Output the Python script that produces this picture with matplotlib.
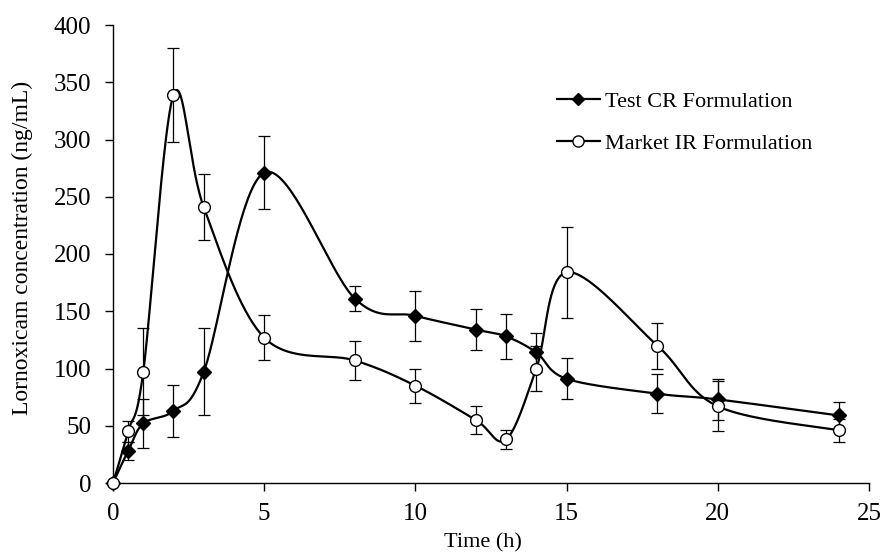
import numpy as np
import matplotlib
matplotlib.use("Agg")
import matplotlib.pyplot as plt
from matplotlib.lines import Line2D

plt.rcParams['font.family'] = ['Liberation Serif', 'DejaVu Serif']

time_cr = [0, 0.5, 1, 2, 3, 5, 8, 10, 12, 13, 14, 15, 18, 20, 24]
conc_cr = [0, 28, 52, 63, 97, 271, 161, 146, 134, 128, 114, 91, 78, 73, 59]
err_cr = [0, 8, 21, 23, 38, 32, 11, 22, 18, 20, 17, 18, 17, 18, 12]

time_ir = [0, 0.5, 1, 2, 3, 5, 8, 10, 12, 13, 14, 15, 18, 20, 24]
conc_ir = [0, 45, 97, 339, 241, 127, 107, 85, 55, 38, 100, 184, 120, 67, 46]
err_ir = [0, 9, 38, 41, 29, 20, 17, 15, 12, 8, 20, 40, 20, 22, 10]

W, H = 883, 557
fig = plt.figure(figsize=(W / 100, H / 100), dpi=100)
ax = fig.add_axes([113 / W, (557 - 483) / H, (869 - 113) / W, (483 - 25) / H])
ax.set_xlim(0, 25)
ax.set_ylim(0, 400)


def smooth(xs, ys, n=40):
    # Excel-style Bezier smoothing computed in display space
    pts = ax.transData.transform(np.column_stack([xs, ys]))
    P = np.vstack([pts[0], pts, pts[-1]])
    out = []
    for i in range(1, len(P) - 2):
        p0, p1, p2, p3 = P[i - 1], P[i], P[i + 1], P[i + 2]
        b1 = p1 + (p2 - p0) / 6.0
        b2 = p2 - (p3 - p1) / 6.0
        t = np.linspace(0, 1, n)[:, None]
        seg = ((1 - t) ** 3) * p1 + 3 * ((1 - t) ** 2) * t * b1 + 3 * (1 - t) * t ** 2 * b2 + t ** 3 * p2
        out.append(seg if i == 1 else seg[1:])
    out = np.vstack(out)
    d = ax.transData.inverted().transform(out)
    return d[:, 0], d[:, 1]


for xs, ys in [(time_cr, conc_cr), (time_ir, conc_ir)]:
    sx, sy = smooth(xs, ys)
    ax.plot(sx, sy, color='black', lw=1.6, zorder=2, clip_on=False)

ax.errorbar(time_cr, conc_cr, yerr=err_cr, fmt='none', ecolor='black',
            elinewidth=0.9, capsize=4.5, capthick=0.9, zorder=3)
ax.errorbar(time_ir, conc_ir, yerr=err_ir, fmt='none', ecolor='black',
            elinewidth=0.9, capsize=4.5, capthick=0.9, zorder=3)
ax.plot(time_cr, conc_cr, linestyle='none', marker='D', ms=7,
        mfc='black', mec='black', zorder=4, clip_on=False)
ax.plot(time_ir, conc_ir, linestyle='none', marker='o', ms=8.5,
        mfc='white', mec='black', mew=1.0, zorder=5, clip_on=False)

for s in ['top', 'right']:
    ax.spines[s].set_visible(False)
for s in ['left', 'bottom']:
    ax.spines[s].set_linewidth(1.0)

ax.set_xticks([0, 5, 10, 15, 20, 25])
ax.set_yticks(range(0, 401, 50))
ax.tick_params(axis='both', direction='out', length=5.5, width=1.0,
               labelsize=18)
ax.tick_params(axis='y', pad=10)
ax.tick_params(axis='x', pad=9)

ax.set_xlabel('Time (h)', fontsize=16)
ax.xaxis.set_label_coords((483 - 113) / 756, -(533 - 483) / 458)
ax.set_ylabel('Lornoxicam concentration (ng/mL)', fontsize=17)
ax.yaxis.set_label_coords(-(113 - 22) / 756, (483 - 248) / 458)
ax.yaxis.label.set_verticalalignment('center')

handles = [
    Line2D([], [], color='black', lw=1.6, marker='D', ms=6.5, mfc='black', mec='black'),
    Line2D([], [], color='black', lw=1.6, marker='o', ms=8, mfc='white', mec='black'),
]
ax.legend(handles, ['Test CR Formulation', 'Market IR Formulation'],
          loc='upper left', bbox_to_anchor=(0.587, 0.855), frameon=False,
          fontsize=16, handlelength=1.95, handletextpad=0.2, labelspacing=0.95,
          borderaxespad=0, borderpad=0)

fig.savefig('out.png', dpi=100)
